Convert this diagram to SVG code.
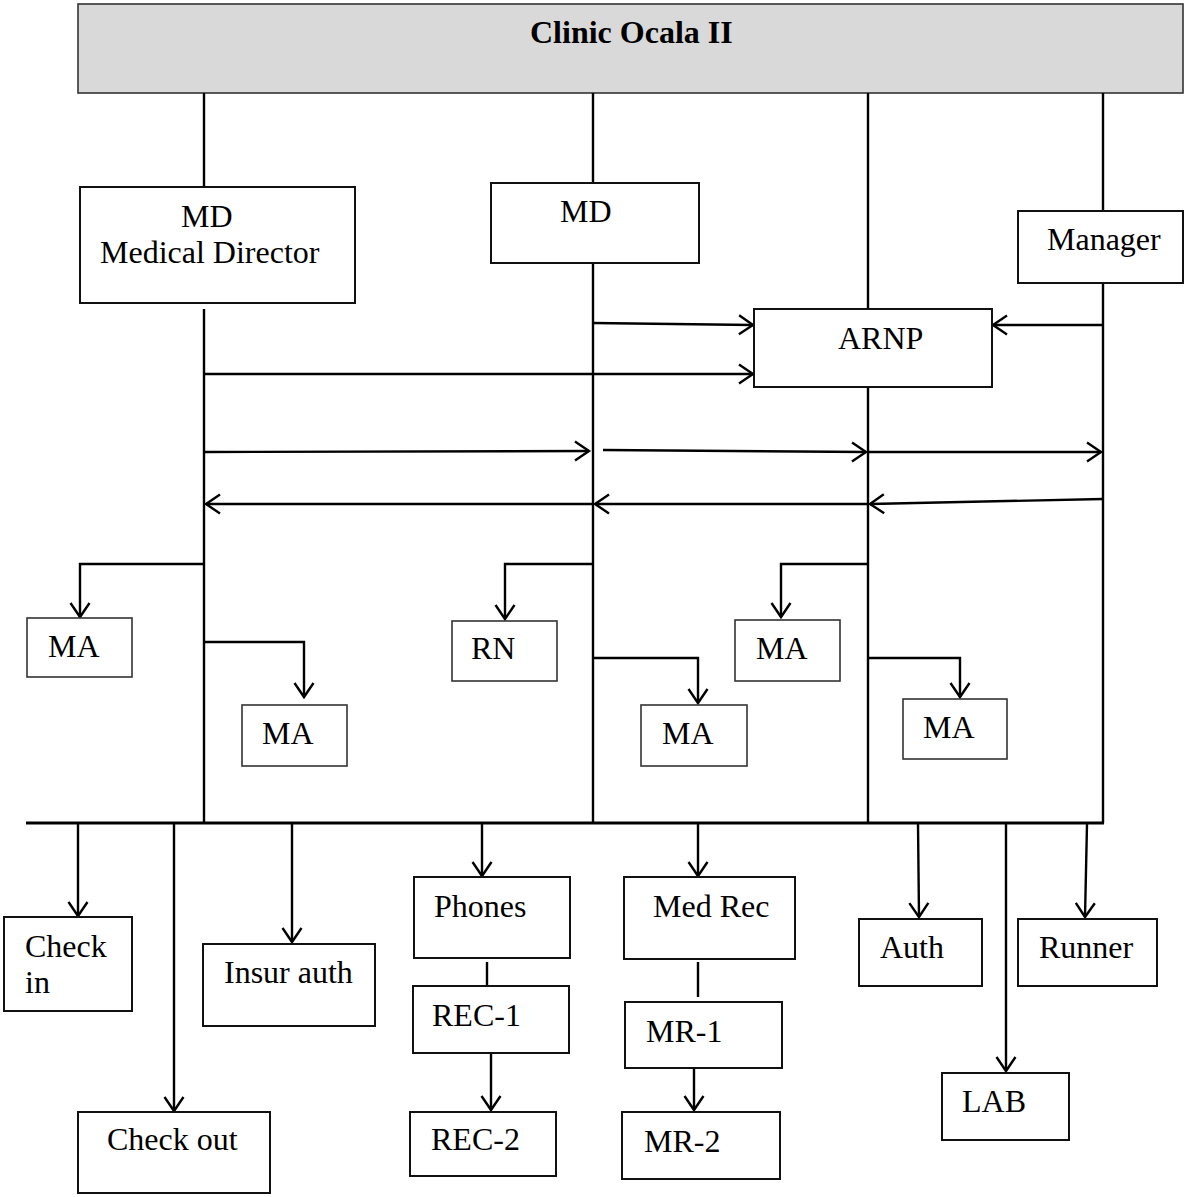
<svg xmlns="http://www.w3.org/2000/svg" width="1185" height="1197" viewBox="0 0 1185 1197">
<defs>
<style>
.bx{fill:#fff;stroke:#111;stroke-width:2}
.bs{fill:#fff;stroke:#333;stroke-width:1.6}
.t{font-family:"Liberation Serif","Times New Roman",serif;font-size:32px;fill:#000}
.ln{fill:none;stroke:#000;stroke-width:2.4}
.ar{fill:none;stroke:#000;stroke-width:2.4;marker-end:url(#ah)}
</style>
<marker id="ah" markerUnits="userSpaceOnUse" viewBox="-16 -12 20 24" markerWidth="20" markerHeight="24" refX="0" refY="0" orient="auto" overflow="visible">
<path d="M-14,-9.5 L0,0 L-14,9.5" fill="none" stroke="#000" stroke-width="2.4"/>
</marker>
</defs>
<rect width="1185" height="1197" fill="#fff"/>
<g id="header">
<rect x="78" y="4" width="1105" height="89" fill="#d9d9d9" stroke="#333" stroke-width="1.6"/>
<text x="530" y="43" class="t" style="font-weight:bold;font-size:32px">Clinic Ocala II</text>
</g>
<g id="connectors">
<path class="ln" d="M204,93 V186 M593,93 V183 M868,93 V309 M1103,93 V211"/>
<path class="ln" d="M204,309 V823 M593,263 V823 M868,387 V823 M1103,283 V823"/>
<path class="ln" style="stroke-width:3.2" d="M26,823 H1104"/>
<path class="ar" d="M593,323 L753,325"/>
<path class="ar" d="M204,374 L753,374"/>
<path class="ar" d="M1103,325 L993,325"/>
<path class="ar" d="M204,452 L589,451"/>
<path class="ar" d="M603,450 L866,452"/>
<path class="ar" d="M868,452 L1101,452"/>
<path class="ar" d="M1103,499 L870,504"/>
<path class="ar" d="M868,504 L595,504"/>
<path class="ar" d="M593,504 L206,504"/>
<path class="ar" d="M204,564 L80,564 L80,617"/>
<path class="ar" d="M204,642 L304,642 L304,697"/>
<path class="ar" d="M593,564 L505,564 L505,619"/>
<path class="ar" d="M593,658 L698,658 L698,703"/>
<path class="ar" d="M868,564 L781,564 L781,617"/>
<path class="ar" d="M868,658 L960,658 L960,697"/>
<path class="ar" d="M78,824 L78,916"/>
<path class="ar" d="M174,824 L174,1111"/>
<path class="ar" d="M292,824 L292,942"/>
<path class="ar" d="M482,824 L482,876"/>
<path class="ar" d="M698,824 L698,876"/>
<path class="ar" d="M918,824 L919,917"/>
<path class="ar" d="M1006,824 L1006,1071"/>
<path class="ar" d="M1087,824 L1085,917"/>
<path class="ar" d="M491,1053 L491,1110"/>
<path class="ar" d="M694,1068 L694,1110"/>
<path class="ln" d="M487,962 V985 M698,962 V997"/>
</g>
<g id="md-director"><rect class="bx" x="80" y="187" width="275" height="116"/><text class="t" x="181" y="227">MD</text><text class="t" x="100" y="263">Medical Director</text></g>
<g id="md"><rect class="bx" x="491" y="183" width="208" height="80"/><text class="t" x="560" y="222">MD</text></g>
<g id="manager"><rect class="bx" x="1018" y="211" width="165" height="72"/><text class="t" x="1047" y="250">Manager</text></g>
<g id="arnp"><rect class="bx" x="754" y="309" width="238" height="78"/><text class="t" x="838" y="349">ARNP</text></g>
<g id="ma1"><rect class="bs" x="27" y="618" width="105" height="59"/><text class="t" x="48" y="657">MA</text></g>
<g id="ma2"><rect class="bs" x="242" y="705" width="105" height="61"/><text class="t" x="262" y="744">MA</text></g>
<g id="rn"><rect class="bs" x="452" y="621" width="105" height="60"/><text class="t" x="471" y="659">RN</text></g>
<g id="ma3"><rect class="bs" x="641" y="705" width="106" height="61"/><text class="t" x="662" y="744">MA</text></g>
<g id="ma4"><rect class="bs" x="735" y="620" width="105" height="61"/><text class="t" x="756" y="659">MA</text></g>
<g id="ma5"><rect class="bs" x="903" y="699" width="104" height="60"/><text class="t" x="923" y="738">MA</text></g>
<g id="checkin"><rect class="bx" x="4" y="917" width="128" height="94"/><text class="t" x="25" y="957">Check</text><text class="t" x="25" y="993">in</text></g>
<g id="checkout"><rect class="bx" x="78" y="1112" width="192" height="81"/><text class="t" x="107" y="1150">Check out</text></g>
<g id="insur"><rect class="bx" x="203" y="944" width="172" height="82"/><text class="t" x="224" y="983">Insur auth</text></g>
<g id="phones"><rect class="bx" x="414" y="877" width="156" height="81"/><text class="t" x="434" y="917">Phones</text></g>
<g id="rec1"><rect class="bx" x="413" y="986" width="156" height="67"/><text class="t" x="432" y="1026">REC-1</text></g>
<g id="rec2"><rect class="bx" x="410" y="1112" width="146" height="64"/><text class="t" x="431" y="1150">REC-2</text></g>
<g id="medrec"><rect class="bx" x="624" y="877" width="171" height="82"/><text class="t" x="653" y="917">Med Rec</text></g>
<g id="mr1"><rect class="bx" x="625" y="1002" width="157" height="66"/><text class="t" x="646" y="1042">MR-1</text></g>
<g id="mr2"><rect class="bx" x="622" y="1112" width="158" height="67"/><text class="t" x="644" y="1152">MR-2</text></g>
<g id="auth"><rect class="bx" x="859" y="919" width="123" height="67"/><text class="t" x="880" y="958">Auth</text></g>
<g id="runner"><rect class="bx" x="1018" y="919" width="139" height="67"/><text class="t" x="1039" y="958">Runner</text></g>
<g id="lab"><rect class="bx" x="942" y="1073" width="127" height="67"/><text class="t" x="962" y="1112">LAB</text></g>
</svg>
